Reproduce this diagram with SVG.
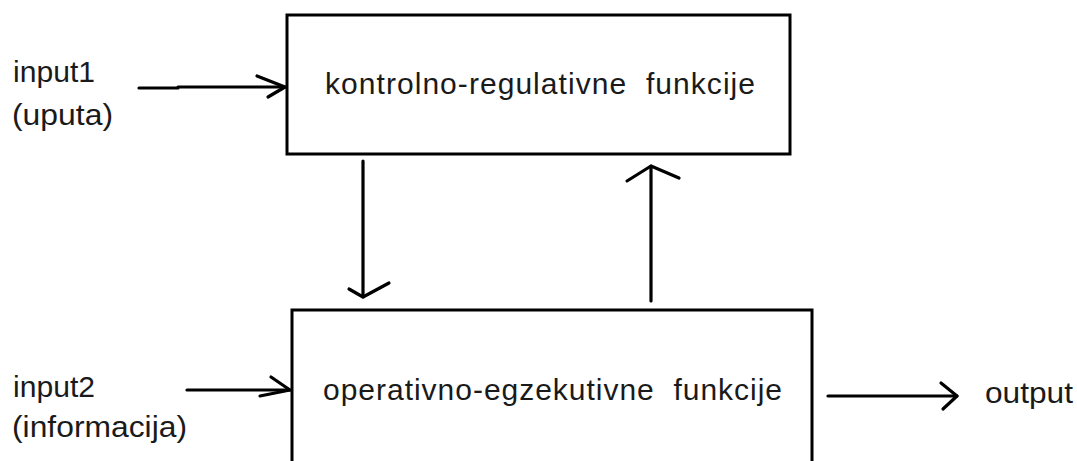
<svg xmlns="http://www.w3.org/2000/svg" width="1077" height="461" viewBox="0 0 1077 461">
<style>
text{font-family:"Liberation Sans",Arial,sans-serif;font-size:30px;fill:#1a1a1a;white-space:pre}
.box{fill:#fff;stroke:#000;stroke-width:3}
.ln{fill:none;stroke:#000;stroke-width:3.2;stroke-linecap:round;stroke-linejoin:round}
</style>
<rect width="1077" height="461" fill="#fff"/>
<g id="input1">
<text x="13" y="82" textLength="82" lengthAdjust="spacingAndGlyphs">input1</text>
<text x="12" y="125" textLength="101" lengthAdjust="spacingAndGlyphs">(uputa)</text>
</g>
<g id="input2">
<text x="13" y="397" textLength="82" lengthAdjust="spacingAndGlyphs">input2</text>
<text x="12" y="437" textLength="175" lengthAdjust="spacingAndGlyphs">(informacija)</text>
</g>
<g id="output">
<text x="985" y="403" textLength="88" lengthAdjust="spacingAndGlyphs">output</text>
</g>
<g id="kontrolno">
<rect class="box" x="287" y="15" width="503" height="139"/>
<text x="325" y="94" textLength="430" lengthAdjust="spacing">kontrolno-regulativne  funkcije</text>
</g>
<g id="operativno">
<rect class="box" x="292" y="310" width="520" height="170"/>
<text x="323" y="400" textLength="459" lengthAdjust="spacing">operativno-egzekutivne  funkcije</text>
</g>
<g id="connectors">
<path class="ln" d="M139 88 L178 88 L178 87 L285 87"/>
<path class="ln" d="M257 76 L285 87 L268 97"/>
<path class="ln" d="M187 390 L290 390"/>
<path class="ln" d="M271 377 L290 390 L260 396"/>
<path class="ln" d="M363 161 L363 297"/>
<path class="ln" d="M349 289 L363 297 L389 283"/>
<path class="ln" d="M651 301 L651 166"/>
<path class="ln" d="M627 181 L651 166 L679 178"/>
<path class="ln" d="M828 396 L957 396"/>
<path class="ln" d="M941 383 L957 396 L943 409"/>
</g>
</svg>
